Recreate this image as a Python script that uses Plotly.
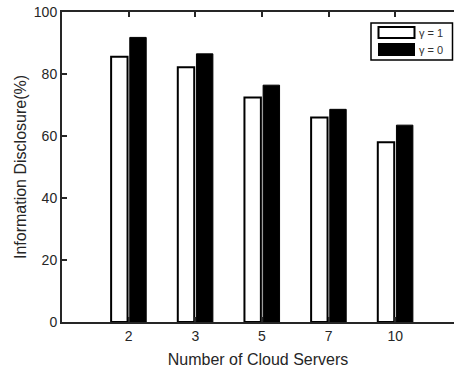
import plotly.graph_objects as go

# Information disclosure by number of cloud servers, for two gamma settings
servers = ["2", "3", "5", "7", "10"]
gamma1 = [85.6, 82.2, 72.4, 66.0, 58.0]
gamma0 = [91.8, 86.5, 76.4, 68.6, 63.5]
legend_labels = ["\u03b3 = 1", "\u03b3 = 0"]

axis_color = "#262626"
font_family = "Liberation Sans, Arial, Helvetica, sans-serif"

fig = go.Figure()
fig.add_trace(go.Bar(
    x=servers, y=gamma1, name=legend_labels[0],
    marker=dict(color="white", line=dict(color="black", width=2)),
    showlegend=False,
))
fig.add_trace(go.Bar(
    x=servers, y=gamma0, name=legend_labels[1],
    marker=dict(color="black", line=dict(color="black", width=1)),
    showlegend=False,
))

# Legend box drawn in paper coordinates
W, H = 454, 372
ml, mr, mt, mb = 62, 0, 12, 50
pw, ph = W - ml - mr, H - mt - mb


def px(x):
    return (x - ml) / pw


def py(y):
    return 1 - (y - mt) / ph


shapes = [
    dict(type="rect", xref="paper", yref="paper",
         x0=px(371), x1=px(452.5), y0=py(60), y1=py(23),
         line=dict(color="black", width=1.5), fillcolor="white"),
    dict(type="rect", xref="paper", yref="paper",
         x0=px(378.5), x1=px(414.5), y0=py(38), y1=py(27),
         line=dict(color="black", width=2), fillcolor="white"),
    dict(type="rect", xref="paper", yref="paper",
         x0=px(378), x1=px(415), y0=py(56), y1=py(43),
         line=dict(color="black", width=0), fillcolor="black"),
]
annotations = [
    dict(xref="paper", yref="paper", x=px(417), y=py(33), text=legend_labels[0],
         showarrow=False, xanchor="left", yanchor="middle",
         font=dict(size=11, color="#333333", family=font_family)),
    dict(xref="paper", yref="paper", x=px(417), y=py(50), text=legend_labels[1],
         showarrow=False, xanchor="left", yanchor="middle",
         font=dict(size=11, color="#333333", family=font_family)),
]

fig.update_layout(
    width=W, height=H,
    margin=dict(l=ml, r=mr, t=mt, b=mb),
    paper_bgcolor="white", plot_bgcolor="white",
    barmode="group", bargap=0.44, bargroupgap=0.12,
    font=dict(family=font_family, color=axis_color, size=14),
    shapes=shapes, annotations=annotations,
    xaxis=dict(
        type="category", range=[-1, 4.88],
        showline=True, linecolor=axis_color, linewidth=2, mirror="ticks",
        ticks="inside", ticklen=5, tickwidth=2, tickcolor=axis_color,
        showgrid=False, zeroline=False,
        tickfont=dict(size=14, color=axis_color),
        title=dict(text="Number of Cloud Servers", font=dict(size=16, color=axis_color),
                   standoff=11),
    ),
    yaxis=dict(
        range=[0, 100], tickvals=[0, 20, 40, 60, 80, 100],
        showline=True, linecolor=axis_color, linewidth=2,
        ticks="inside", ticklen=5, tickwidth=2, tickcolor=axis_color,
        showgrid=False, zeroline=False,
        tickfont=dict(size=14, color=axis_color),
        title=dict(text="Information Disclosure(%)", font=dict(size=16, color=axis_color),
                   standoff=3),
    ),
)

fig.write_html("out.html")
